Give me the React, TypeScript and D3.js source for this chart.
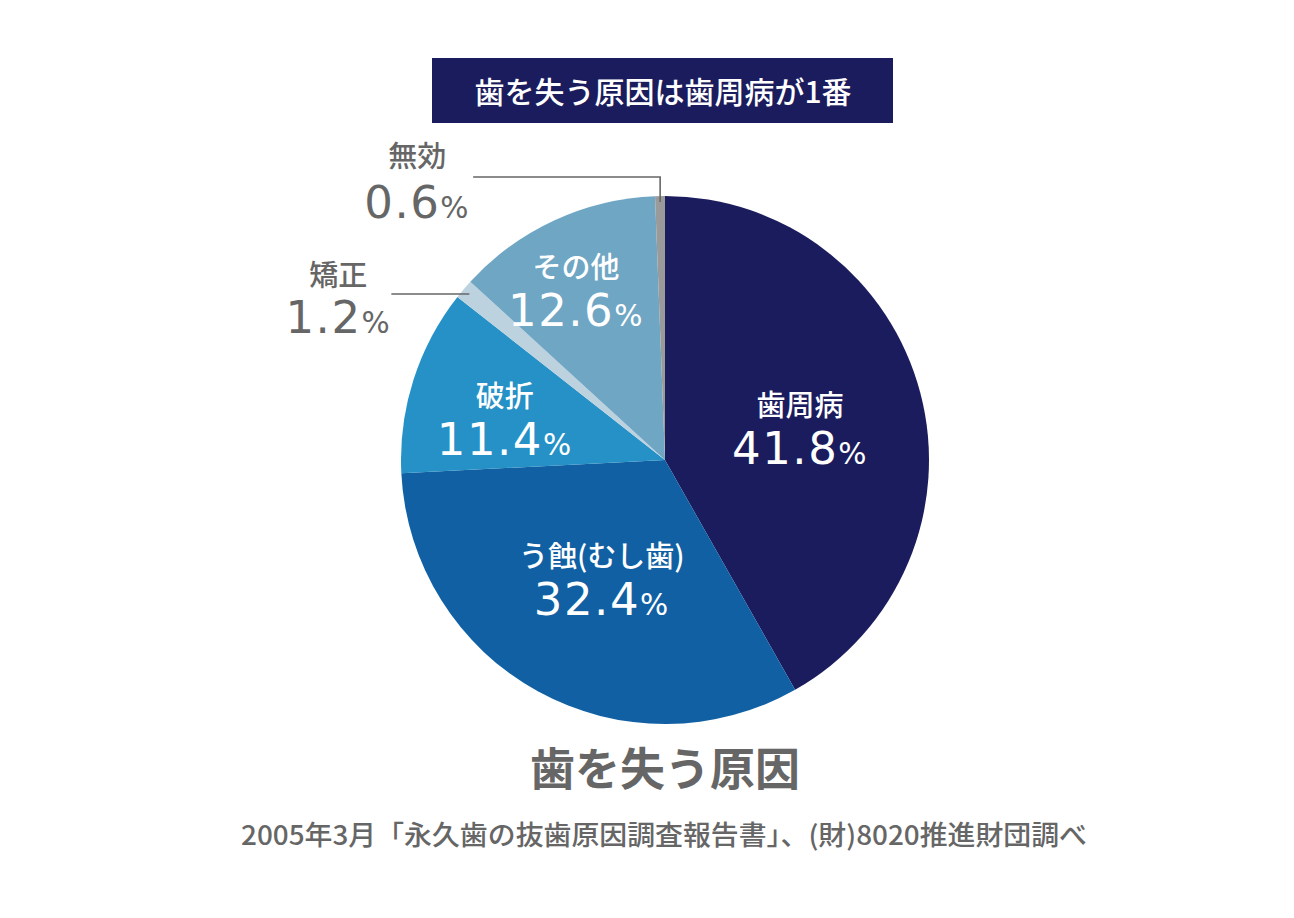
import { useMemo } from 'react'
import { pie, arc } from 'd3'

const categories = ['歯周病', 'う蝕(むし歯)', '破折', '矯正', 'その他', '無効']
const values = [41.8, 32.4, 11.4, 1.2, 12.6, 0.6]
const colors = ['#1b1c5d', '#1060a3', '#2591c6', '#bdd2df', '#6fa6c4', '#9a9a9a']
// these two are too thin for an inside label, they get a leader line
const outside = ['矯正', '無効']

const width = 1294
const height = 918
const cx = 665
const cy = 460
const radius = 264

// inside labels: radius factor and angle nudge (degrees)
const labelPos: Record<string, [number, number]> = {
  '歯周病': [0.517, 6.4],
  'う蝕(むし歯)': [0.55, -3],
  '破折': [0.617, -7.3],
  'その他': [0.686, -4.6],
}

const jp = '"Noto Sans CJK JP", "Noto Sans", sans-serif'
const num = '"DejaVu Sans", sans-serif'
const gray = '#666'

function Pct({ v, y, size = 45 }: { v: number; y: number; size?: number }) {
  return (
    <text y={y} fontFamily={num} fontSize={size} letterSpacing={1.5}>
      {v.toFixed(1)}
      <tspan fontSize={size * 0.66}>%</tspan>
    </text>
  )
}

function App() {
  const arcs = useMemo(() => {
    const data = categories.map((c, i) => ({ name: c, value: values[i], color: colors[i] }))
    return pie<any>().sort(null).value(d => d.value)(data)
  }, [])

  const arcGen = arc<any>().innerRadius(0).outerRadius(radius)

  return (
    <svg width={width} height={height} style={{ position: 'absolute', left: 0, top: 0, background: '#fff' }} fontFamily={jp}>
      <rect x={432} y={58} width={461} height={65} fill="#1b1c5d" />
      <text x={663} y={103} textAnchor="middle" fill="#fff" fontSize={30} fontWeight={500}>
        歯を失う原因は歯周病が1番
      </text>

      <g transform={`translate(${cx},${cy})`}>
        {arcs.map(a => (
          <path key={a.data.name} d={arcGen(a) as string} fill={a.data.color} />
        ))}

        {arcs.filter(a => !outside.includes(a.data.name)).map(a => {
          const [k, shift] = labelPos[a.data.name]
          const ang = (a.startAngle + a.endAngle) / 2 + (shift * Math.PI) / 180
          const x = radius * k * Math.sin(ang)
          const y = -radius * k * Math.cos(ang)
          return (
            <g key={a.data.name} transform={`translate(${x},${y})`} fill="#fff" textAnchor="middle">
              <text y={-24} fontSize={29} fontWeight={500}>{a.data.name}</text>
              <Pct v={a.data.value} y={24} />
            </g>
          )
        })}

        {arcs.filter(a => outside.includes(a.data.name)).map(a => {
          const mid = (a.startAngle + a.endAngle) / 2
          if (a.data.name === '無効') {
            const px = radius * 0.977 * Math.sin(mid)
            const py = -radius * 0.977 * Math.cos(mid)
            const ly = -radius - 19
            const lx = px - 187
            return (
              <g key={a.data.name}>
                <polyline points={`${px},${py} ${px},${ly} ${lx},${ly}`} fill="none" stroke={gray} strokeWidth={1.6} />
                <g transform={`translate(${lx - 56},${ly})`} fill={gray} textAnchor="middle">
                  <text y={-10} fontSize={29} fontWeight={500}>{a.data.name}</text>
                  <Pct v={a.data.value} y={41} />
                </g>
              </g>
            )
          }
          const px = radius * 0.972 * Math.sin(mid)
          const py = -radius * 0.972 * Math.cos(mid)
          const lx = px - 78
          return (
            <g key={a.data.name}>
              <line x1={px} y1={py} x2={lx} y2={py} stroke={gray} strokeWidth={1.6} />
              <g transform={`translate(${lx - 53},${py})`} fill={gray} textAnchor="middle">
                <text y={-8} fontSize={29} fontWeight={500}>{a.data.name}</text>
                <Pct v={a.data.value} y={39} />
              </g>
            </g>
          )
        })}
      </g>

      <text x={665} y={786} textAnchor="middle" fill="#666" fontSize={45} fontWeight={700}>
        歯を失う原因
      </text>
      <text x={664} y={845} textAnchor="middle" fill={gray} fontSize={27} fontWeight={500}
        textLength={846} lengthAdjust="spacingAndGlyphs">
        2005年3月「永久歯の抜歯原因調査報告書」、(財)8020推進財団調べ
      </text>
    </svg>
  )
}

export default App
